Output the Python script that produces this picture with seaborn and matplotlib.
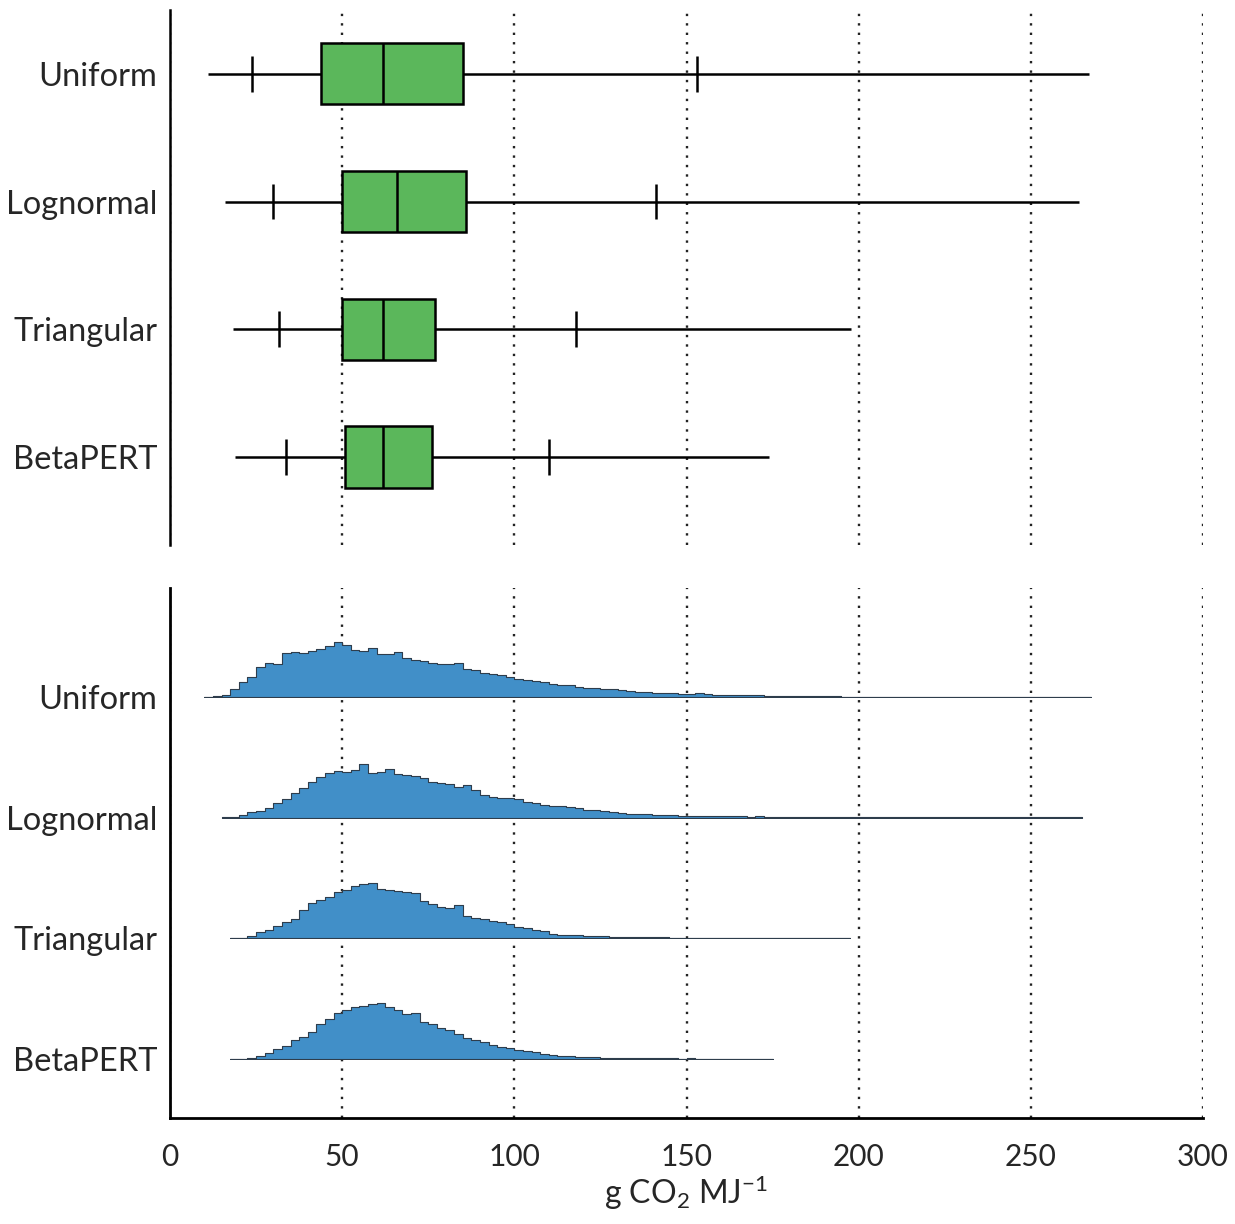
import numpy as np
import pandas as pd
import matplotlib
matplotlib.use("Agg")
import matplotlib.pyplot as plt
import seaborn as sns

# ---------------- data ----------------
categories = ["Uniform", "Lognormal", "Triangular", "BetaPERT"]

box_min = [10.9, 15.9, 18.2, 19.0]
box_p5 = [23.9, 29.9, 31.8, 33.8]
box_q1 = [43.8, 49.9, 49.9, 50.9]
box_median = [62.0, 66.0, 61.9, 61.9]
box_q3 = [85.1, 86.1, 77.1, 76.0]
box_p95 = [153.0, 141.0, 117.9, 110.1]
box_max = [266.9, 264.0, 197.8, 174.0]

hist_bin_width = 2.5

uniform_start = 10.0
uniform_counts = [
    0.3, 0.5, 2, 8, 15, 20, 30, 34, 33, 44, 45, 44, 46, 48, 51, 55, 52, 47, 46, 49,
    43, 43, 45, 39, 37, 36, 34, 33, 33, 34, 28, 27, 24, 23, 22, 20, 18, 17, 16, 15,
    13, 12, 12, 10, 9, 9, 8, 8, 7, 6, 5, 5, 4, 4, 3.5, 3, 3, 3.5, 2.5, 2,
    2, 2, 1.5, 1.5, 1.5, 1, 1, 0.8, 0.8, 0.7, 0.6, 0.6, 0.5, 0.5,
    0.4, 0.3, 0.4, 0.3, 0.3, 0.4, 0.3, 0.3, 0.3, 0.4, 0.3, 0.3, 0.3, 0.3, 0.3,
    0.3, 0.3, 0.3, 0.3, 0.3, 0.3, 0.3, 0.3, 0.3, 0.3, 0.3, 0.3, 0.3, 0.3,
]

lognormal_start = 15.0
lognormal_counts = [
    0.5, 1, 3, 6, 7, 10, 15, 19, 25, 30, 36, 41, 45, 47, 46, 48, 54, 45, 46, 49,
    44, 43, 42, 40, 36, 35, 34, 31, 33, 28, 23, 21, 20, 20, 19, 16, 15, 13, 12, 12,
    11, 10, 8, 8, 7, 6, 5, 4, 4, 3.5, 3, 3, 2.5, 2,
    1.5, 1.8, 1.4, 1.5, 1.2, 1.3, 1.5, 1.1, 1.2, 1.0,
    0.8, 0.9, 0.7, 0.8, 0.7, 0.6, 0.7, 0.6, 0.6, 0.5,
    0.4, 0.3, 0.4, 0.3, 0.3, 0.4, 0.3, 0.3, 0.3, 0.3, 0.3, 0.3, 0.3,
    0.3, 0.3, 0.3, 0.3, 0.3, 0.3, 0.3, 0.3, 0.3, 0.3, 0.3, 0.3, 0.3,
]

triangular_start = 17.5
triangular_counts = [
    0.3, 0.6, 2, 6, 8, 12, 16, 19, 28, 35, 38, 41, 46, 48, 52, 54, 55, 49, 48, 47,
    46, 45, 37, 34, 31, 30, 33, 22, 20, 19, 17, 16, 14, 11, 10, 8, 7, 4, 3.5, 3,
    3, 2.5, 2, 2, 1.8, 1.5, 1.5, 1.3, 1.2, 1, 1,
    0.7, 0.6, 0.7, 0.6, 0.6, 0.5, 0.6, 0.5, 0.5, 0.5, 0.5,
    0.4, 0.5, 0.4, 0.4, 0.4, 0.4, 0.4, 0.4, 0.4, 0.4,
]

betapert_start = 17.5
betapert_counts = [
    0.3, 0.5, 0.8, 3, 6, 10, 13, 19, 22, 27, 35, 40, 46, 49, 52, 53, 55, 56, 52, 49,
    45, 46, 37, 35, 31, 29, 25, 21, 19, 17, 14, 12, 11, 9, 8, 7, 5, 4, 3.5, 3,
    2.5, 2, 1.8, 1.5, 1.3, 1.2, 1, 1, 0.9, 0.8, 0.8,
    0.6, 0.5, 0.6, 0.5, 0.5, 0.5, 0.4, 0.5, 0.4, 0.4, 0.4, 0.4,
]

x_ticks = [0, 50, 100, 150, 200, 250, 300]
x_label = r"g CO$_2$ MJ$^{-1}$"

# ---------------- style ----------------
sns.set_style("white")
plt.rcParams["font.family"] = ["Lato", "DejaVu Sans"]
plt.rcParams["mathtext.default"] = "regular"

GREEN = "#5bb75b"
BLUE = "#418fc8"
GRID_KW = dict(color="#222222", linestyle=(0, (1, 3)), linewidth=1.7)
FS_Y = 23.5
FS_X = 21.5

W, H = 1235, 1224
fig = plt.figure(figsize=(W / 100, H / 100), dpi=100)

left = 170 / W
width = 1033 / W
ax1 = fig.add_axes([left, (H - 545) / H, width, 535 / H])
ax2 = fig.add_axes([left, (H - 1118) / H, width, 530 / H])

# ---------------- top panel: boxplots ----------------
rows = []
for c, a, b, m, d, e in zip(categories, box_min, box_q1, box_median, box_q3, box_max):
    for v in (a, b, m, d, e):
        rows.append({"dist": c, "value": v})
box_df = pd.DataFrame(rows)

sns.boxplot(data=box_df, x="value", y="dist", order=categories, orient="h",
            whis=(0, 100), showcaps=False, width=0.48, color=GREEN,
            saturation=1, linecolor="black", linewidth=1.8, showfliers=False,
            ax=ax1, zorder=3)
ax1.vlines(box_p5, np.arange(4) - 0.14, np.arange(4) + 0.14, color="black",
           linewidth=1.8, zorder=4)
ax1.vlines(box_p95, np.arange(4) - 0.14, np.arange(4) + 0.14, color="black",
           linewidth=1.8, zorder=4)

ax1.set_xlim(0, 300)
ax1.set_ylim(3.69, -0.5)
ax1.set_xticks(x_ticks)
ax1.set_xticklabels([])
ax1.xaxis.grid(True, **GRID_KW)
ax1.set_axisbelow(True)
ax1.set_xlabel("")
ax1.set_ylabel("")
ax1.tick_params(axis="both", length=0, labelsize=FS_Y, pad=9)
for s in ("top", "right", "bottom"):
    ax1.spines[s].set_visible(False)
ax1.spines["left"].set_linewidth(1.8)
ax1.spines["left"].set_color("black")

# ---------------- bottom panel: histograms ----------------
ylo, yhi = 3.488, -0.903
span = ylo - yhi
ax2.set_xlim(0, 300)
ax2.set_ylim(ylo, yhi)
ax2.set_yticks(range(4))
ax2.set_yticklabels(categories)
ax2.set_xticks(x_ticks)
ax2.set_xticklabels([str(t) for t in x_ticks])
ax2.xaxis.grid(True, **GRID_KW)
ax2.tick_params(axis="y", length=0, labelsize=FS_Y, pad=9)
ax2.tick_params(axis="x", length=0, labelsize=FS_X, pad=18)
ax2.set_xlabel(x_label, fontsize=23, labelpad=2)
for s in ("top", "right"):
    ax2.spines[s].set_visible(False)
for s in ("left", "bottom"):
    ax2.spines[s].set_linewidth(2.0)
    ax2.spines[s].set_color("black")

series = [
    (uniform_start, uniform_counts),
    (lognormal_start, lognormal_counts),
    (triangular_start, triangular_counts),
    (betapert_start, betapert_counts),
]
inset_h = 100 / 530
for i, (start, counts) in enumerate(series):
    counts = np.asarray(counts, dtype=float)
    n = len(counts)
    centers = start + hist_bin_width * (np.arange(n) + 0.5)
    hdf = pd.DataFrame({"x": centers, "w": counts})
    frac = (ylo - i) / span
    ins = ax2.inset_axes([0, frac, 1, inset_h])
    sns.histplot(data=hdf, x="x", weights="w", binwidth=hist_bin_width,
                 binrange=(start, start + hist_bin_width * n), element="step",
                 fill=True, color=BLUE, alpha=1, edgecolor="#2e3d4c",
                 linewidth=0.8, ax=ins)
    ins.set_xlim(0, 300)
    ins.set_ylim(0, 100)
    ins.set_xlabel("")
    ins.set_ylabel("")
    ins.set_xticks([])
    ins.set_yticks([])
    ins.axis("off")
    ins.patch.set_alpha(0)

fig.savefig("out.png", dpi=100, facecolor="white")
